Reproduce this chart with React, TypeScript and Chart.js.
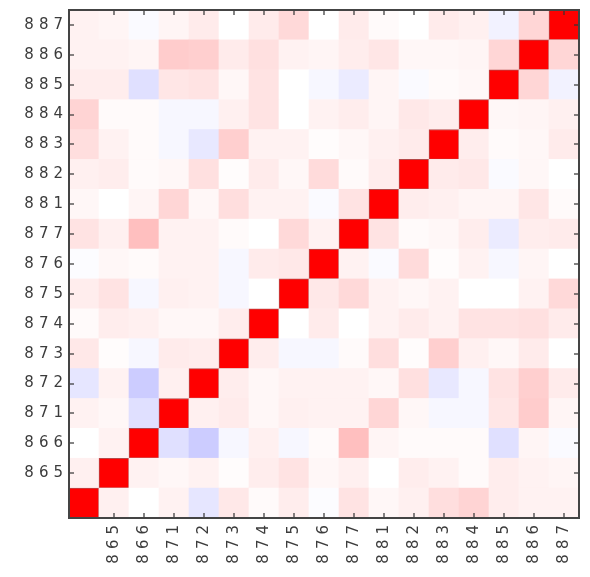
import React, { useEffect, useRef } from "react";
import { Chart, registerables } from "chart.js";

Chart.register(...registerables);

// Category labels (index 0 is the unlabeled first variable)
const categories: string[] = ["", "865", "866", "871", "872", "873", "874", "875", "876", "877", "881", "882", "883", "884", "885", "886", "887"];

// Correlation matrix: correlations[row][col], row = y category (bottom -> top), col = x category
const correlations: number[][] = [
  [1, 0.06, 0.0, 0.05, -0.1, 0.09, 0.02, 0.07, -0.01, 0.11, 0.03, 0.06, 0.13, 0.17, 0.07, 0.05, 0.05],
  [0.06, 1, 0.05, 0.03, 0.05, 0.01, 0.07, 0.11, 0.03, 0.06, 0.0, 0.07, 0.05, 0.02, 0.07, 0.05, 0.04],
  [0.0, 0.05, 1, -0.12, -0.2, -0.03, 0.06, -0.03, 0.02, 0.25, 0.04, 0.02, 0.02, 0.02, -0.12, 0.04, -0.02],
  [0.05, 0.03, -0.12, 1, 0.06, 0.08, 0.03, 0.06, 0.05, 0.05, 0.16, 0.03, -0.03, -0.03, 0.1, 0.2, 0.04],
  [-0.1, 0.05, -0.2, 0.06, 1, 0.07, 0.03, 0.05, 0.05, 0.05, 0.03, 0.12, -0.09, -0.03, 0.11, 0.19, 0.08],
  [0.09, 0.01, -0.03, 0.08, 0.07, 1, 0.07, -0.03, -0.03, 0.02, 0.13, 0.01, 0.19, 0.06, 0.03, 0.08, 0.0],
  [0.02, 0.07, 0.06, 0.03, 0.03, 0.07, 1, 0.0, 0.08, 0.0, 0.05, 0.08, 0.05, 0.11, 0.11, 0.12, 0.08],
  [0.07, 0.11, -0.03, 0.06, 0.05, -0.03, 0.0, 1, 0.09, 0.15, 0.05, 0.03, 0.05, 0.0, 0.0, 0.05, 0.15],
  [-0.01, 0.03, 0.02, 0.05, 0.05, -0.03, 0.08, 0.09, 1, 0.05, -0.02, 0.14, 0.01, 0.05, -0.03, 0.04, 0.0],
  [0.11, 0.06, 0.25, 0.05, 0.05, 0.02, 0.0, 0.15, 0.05, 1, 0.11, 0.02, 0.03, 0.07, -0.08, 0.07, 0.08],
  [0.03, 0.0, 0.04, 0.16, 0.03, 0.13, 0.05, 0.05, -0.02, 0.11, 1, 0.07, 0.06, 0.04, 0.04, 0.1, 0.02],
  [0.06, 0.07, 0.02, 0.03, 0.12, 0.01, 0.08, 0.03, 0.14, 0.02, 0.07, 1, 0.08, 0.09, -0.02, 0.03, 0.0],
  [0.13, 0.05, 0.02, -0.03, -0.09, 0.19, 0.05, 0.05, 0.01, 0.03, 0.06, 0.08, 1, 0.07, 0.02, 0.03, 0.08],
  [0.17, 0.02, 0.02, -0.03, -0.03, 0.06, 0.11, 0.0, 0.05, 0.07, 0.04, 0.09, 0.07, 1, 0.03, 0.04, 0.06],
  [0.07, 0.07, -0.12, 0.1, 0.11, 0.03, 0.11, 0.0, -0.03, -0.08, 0.04, -0.02, 0.02, 0.03, 1, 0.16, -0.05],
  [0.05, 0.05, 0.04, 0.2, 0.19, 0.08, 0.12, 0.05, 0.04, 0.07, 0.1, 0.03, 0.03, 0.04, 0.16, 1, 0.16],
  [0.05, 0.04, -0.02, 0.04, 0.08, 0.0, 0.08, 0.15, 0.0, 0.08, 0.02, 0.0, 0.08, 0.06, -0.05, 0.16, 1],
];

// blue-white-red colormap for values in [-1, 1]
function bwr(v: number): string {
  const t = Math.max(-1, Math.min(1, v));
  if (t >= 0) {
    const c = Math.round(255 * (1 - t));
    return `rgb(255,${c},${c})`;
  }
  const c = Math.round(255 * (1 + t));
  return `rgb(${c},${c},255)`;
}

const FONT = { family: "'DejaVu Sans', sans-serif", size: 15 };
const TEXT_COLOR = "#3c3c3c";

export default function App() {
  const canvasRef = useRef<HTMLCanvasElement | null>(null);

  useEffect(() => {
    const canvas = canvasRef.current;
    if (!canvas) return;

    const datasets = correlations.map((row, i) => ({
      label: categories[i],
      data: row.map(() => 1),
      backgroundColor: row.map((v) => bwr(v)),
      borderColor: row.map((v, j) => (i === j ? "rgba(150,0,0,0.7)" : "rgba(0,0,0,0)")),
      borderWidth: row.map((v, j) => (i === j ? 1 : 0)),
      borderSkipped: false as const,
      barPercentage: 1,
      categoryPercentage: 1,
    }));

    const frame = {
      id: "frame",
      beforeDraw(chart: any) {
        (chart.ctx as any).letterSpacing = "5px";
      },
      afterDraw(chart: any) {
        const ctx = chart.ctx as CanvasRenderingContext2D;
        const area = chart.chartArea;
        const left = area.left, right = area.right, top = area.top, bottom = area.bottom;
        const xs = chart.scales.x;
        const ys = chart.scales.y;
        const len = 5;
        ctx.save();
        (ctx as any).letterSpacing = "0px";
        ctx.lineWidth = 1.2;
        ctx.strokeStyle = "#333";
        const seg = (x1: number, y1: number, x2: number, y2: number) => {
          ctx.beginPath();
          ctx.moveTo(x1, y1);
          ctx.lineTo(x2, y2);
          ctx.stroke();
        };
        for (let idx = 1; idx < categories.length; idx++) {
          const px = Math.round(xs.getPixelForValue(idx));
          seg(px, bottom, px, bottom - len);
          seg(px, top, px, top + len);
          const py = Math.round(ys.getPixelForValue(idx + 0.5));
          seg(left, py, left + len, py);
          seg(right, py, right - len, py);
        }
        ctx.strokeStyle = "#444";
        ctx.lineWidth = 2;
        ctx.strokeRect(left, top, right - left, bottom - top);
        ctx.restore();
      },
    };

    const chart = new Chart(canvas, {
      type: "bar",
      data: { labels: categories, datasets },
      options: {
        animation: false,
        responsive: false,
        layout: { padding: { top: 8, right: 11, left: 0, bottom: 0 } },
        plugins: { legend: { display: false }, tooltip: { enabled: false } },
        scales: {
          x: {
            type: "category",
            stacked: true,
            offset: true,
            grid: { display: false, drawTicks: false },
            border: { display: false },
            ticks: { autoSkip: false, minRotation: 90, maxRotation: 90, padding: 2, color: TEXT_COLOR, font: FONT },
            afterFit: (scale: any) => { scale.height = 59; },
          },
          y: {
            type: "linear",
            stacked: true,
            min: 0,
            max: categories.length,
            grid: { display: false, drawTicks: false },
            border: { display: false },
            afterBuildTicks: (axis: any) => { axis.ticks = categories.map((_, i) => ({ value: i + 0.5 })); },
            ticks: { autoSkip: false, padding: 1, color: TEXT_COLOR, font: FONT, callback: (_v: any, index: number) => categories[index] },
            afterFit: (scale: any) => { scale.width = 69; },
          },
        },
      },
      plugins: [frame],
    } as any);

    return () => chart.destroy();
  }, []);

  return (
    <div style={{ position: "fixed", left: 0, top: 0, width: 590, height: 577, background: "#fff" }}>
      <canvas ref={canvasRef} width={590} height={577} style={{ display: "block" }} />
    </div>
  );
}
